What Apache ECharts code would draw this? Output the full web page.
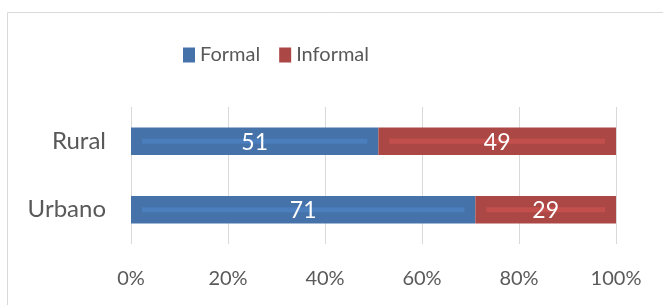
<!DOCTYPE html>
<html>
<head>
<meta charset="utf-8">
<script src="https://cdn.jsdelivr.net/npm/echarts@6/dist/echarts.min.js"></script>
<style>
  html, body { margin: 0; padding: 0; background: #fff; }
  #chart { width: 663px; height: 305px; }
</style>
</head>
<body>
<div id="chart"></div>
<script>
const categories = ['Urbano', 'Rural']
const formal = [71, 51]
const informal = [29, 49]
const xTicks = [0, 20, 40, 60, 80, 100]

const chart = echarts.init(document.getElementById('chart'))

const FONT = 'Lato'
const BLUE = '#4672AA'
const BLUE_STRIPE = '#4A7EBD'
const RED = '#AB4744'
const RED_STRIPE = '#C24F4C'

// stripes + labels drawn over the bars (Excel bevel look)
const stripeData = []
categories.forEach((c, i) => {
  stripeData.push([0, formal[i], i, 0])
  stripeData.push([formal[i], formal[i] + informal[i], i, 1])
})

const renderStripe = (params, api) => {
  const start = api.coord([api.value(0), api.value(2)])
  const end = api.coord([api.value(1), api.value(2)])
  const isFormal = api.value(3) === 0
  const inset = 11
  const h = 5
  const val = api.value(1) - api.value(0)
  return {
    type: 'group',
    children: [
      {
        type: 'rect',
        shape: { x: start[0] + inset, y: start[1] - h / 2, width: end[0] - start[0] - inset * 2, height: h },
        style: { fill: isFormal ? BLUE_STRIPE : RED_STRIPE }
      },
      {
        type: 'text',
        x: (start[0] + end[0]) / 2,
        y: start[1] + 1,
        style: {
          text: String(val),
          fill: '#fff',
          font: '23px ' + FONT,
          align: 'center',
          verticalAlign: 'middle'
        }
      }
    ]
  }
}

const option = {
  animation: false,
  graphic: [
    {
      type: 'rect',
      shape: { x: 7.5, y: 12.5, width: 700, height: 400 },
      style: { fill: 'none', stroke: '#d9d9d9', lineWidth: 1 },
      silent: true
    }
  ],
  legend: {
    top: 40,
    left: 178,
    padding: 5,
    itemWidth: 12,
    itemHeight: 15,
    itemGap: 19,
    icon: 'rect',
    textStyle: { fontFamily: FONT, fontSize: 20, color: '#595959' },
    data: ['Formal', 'Informal']
  },
  grid: {
    left: 131,
    right: 47,
    top: 107,
    bottom: 61,
    containLabel: false
  },
  xAxis: {
    type: 'value',
    min: 0,
    max: 100,
    interval: 20,
    axisLine: { show: false },
    axisTick: { show: false },
    splitLine: { lineStyle: { color: '#d9d9d9', width: 1 } },
    axisLabel: {
      margin: 25,
      fontFamily: FONT,
      fontSize: 20,
      color: '#595959',
      formatter: v => v + '%'
    }
  },
  yAxis: {
    type: 'category',
    data: categories,
    axisLine: { show: false },
    axisTick: { show: false },
    axisLabel: {
      margin: 25,
      fontFamily: FONT,
      fontSize: 24,
      color: '#595959'
    }
  },
  series: [
    {
      name: 'Formal',
      type: 'bar',
      stack: 'total',
      barWidth: '40%',
      itemStyle: { color: BLUE },
      data: formal
    },
    {
      name: 'Informal',
      type: 'bar',
      stack: 'total',
      barWidth: '40%',
      itemStyle: { color: RED },
      data: informal
    },
    {
      type: 'custom',
      renderItem: renderStripe,
      data: stripeData,
      z: 5,
      silent: true
    }
  ]
}

chart.setOption(option)
</script>
</body>
</html>
